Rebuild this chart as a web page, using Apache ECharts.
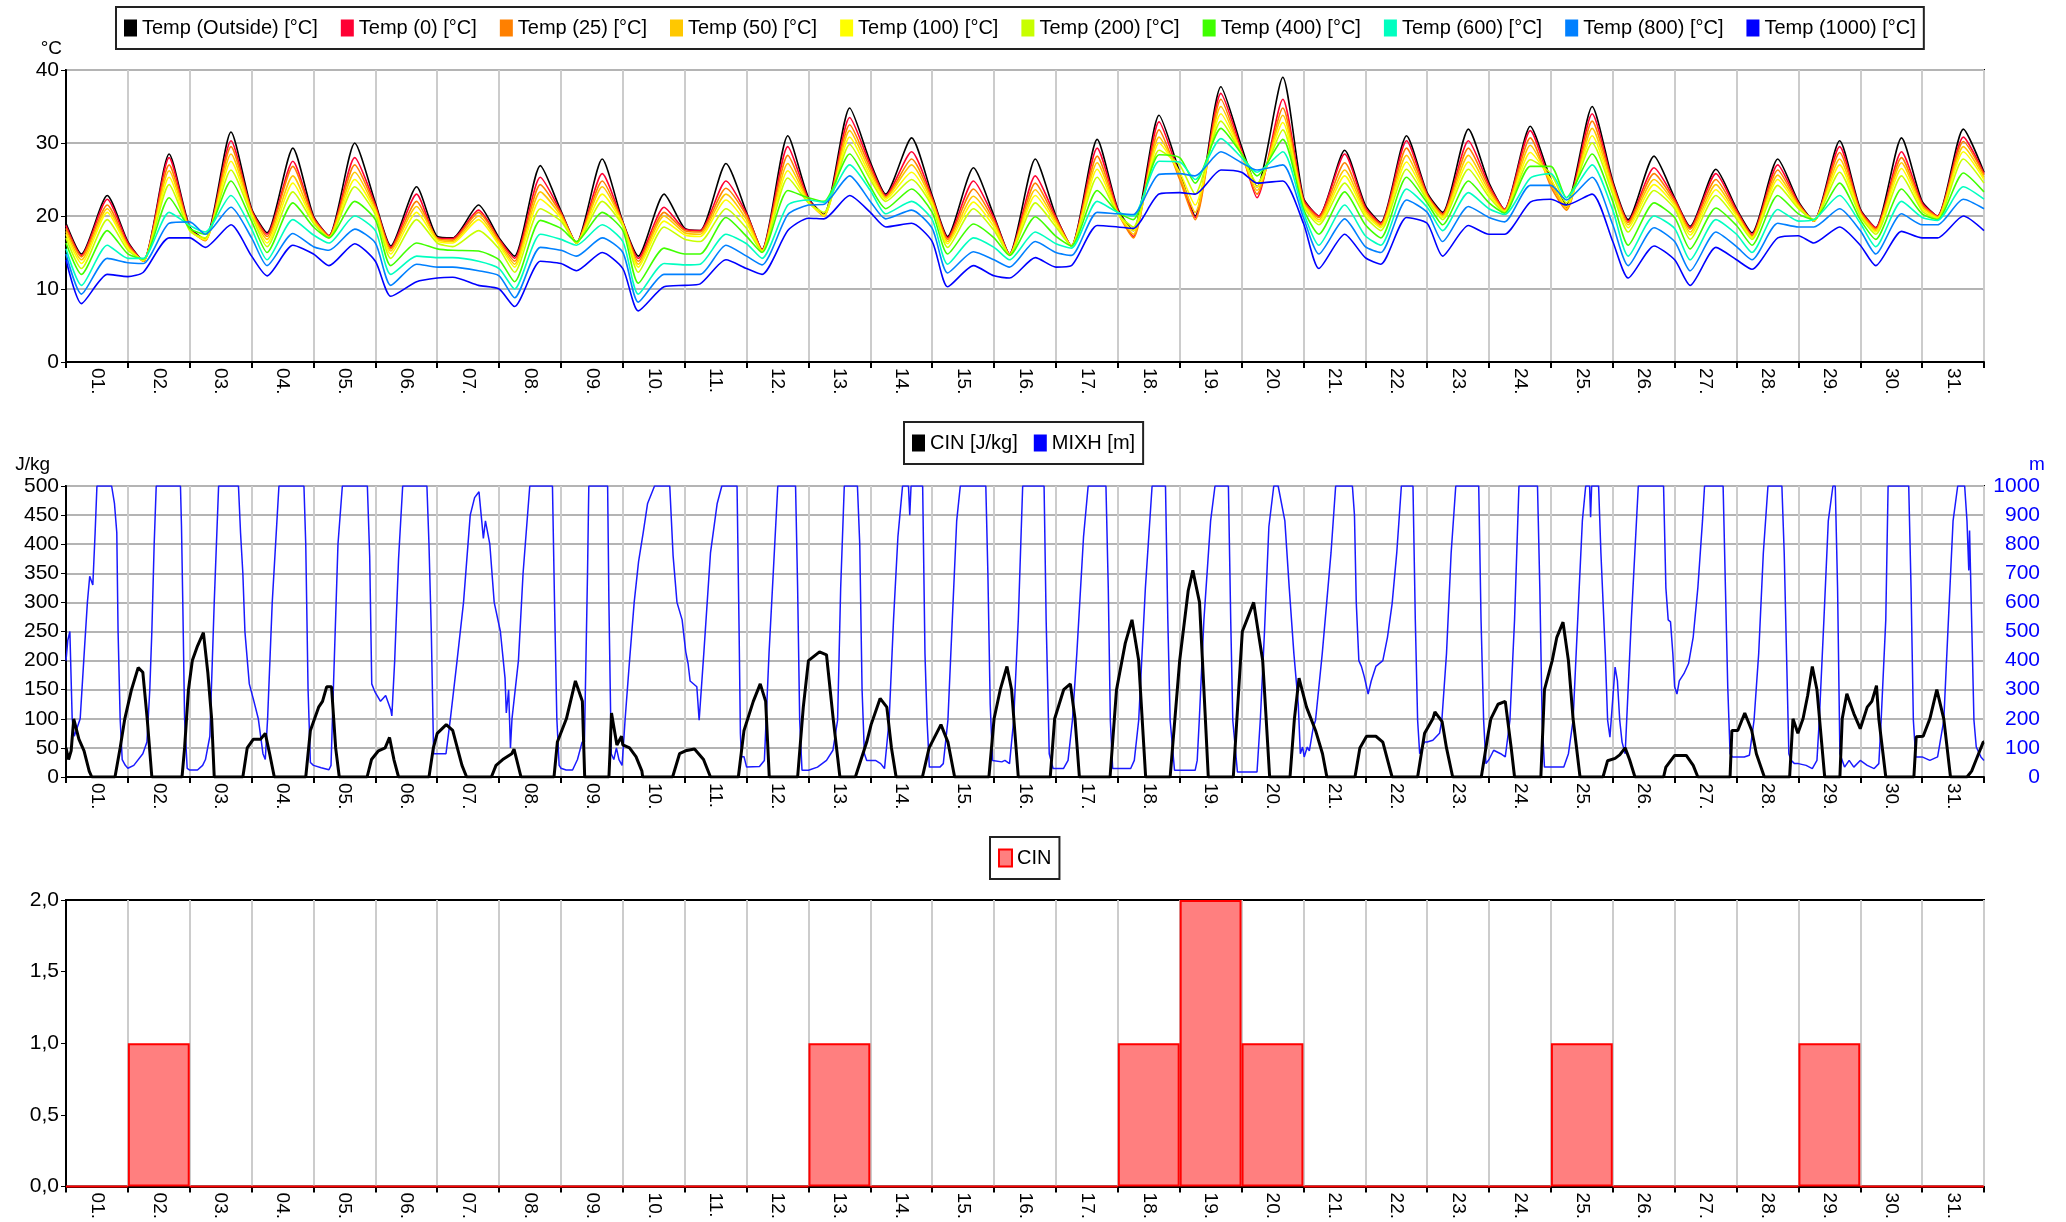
<!DOCTYPE html>
<html>
<head>
<meta charset="utf-8">
<title>Temp / CIN / MIXH</title>
<script src="https://cdn.jsdelivr.net/npm/echarts@6/dist/echarts.min.js"></script>
<style>
  html, body { margin: 0; padding: 0; background: #fff; }
  #chart { width: 2066px; height: 1222px; }
</style>
</head>
<body>
<div id="chart"></div>
<script>
var days = ['01.', '02.', '03.', '04.', '05.', '06.', '07.', '08.', '09.', '10.',
  '11.', '12.', '13.', '14.', '15.', '16.', '17.', '18.', '19.', '20.',
  '21.', '22.', '23.', '24.', '25.', '26.', '27.', '28.', '29.', '30.', '31.'];

// temperatures read per day at 00h, 06h (morning low) and 16h (afternoon high), last value = end of month
var sampleHours = [0, 6, 16];

var tOutside = [19, 14.8, 22.8, 16.5, 13.8, 28.5, 18.5, 16.8, 31.5, 21, 17.7, 29.3, 20, 17.3, 30,
  21.8, 15.9, 24, 17.2, 17, 21.5, 17, 14.5, 26.9, 20.7, 16.3, 27.8, 19.2, 14.5, 23,
  18.3, 18, 27.2, 20.5, 15.4, 31, 22.5, 20.2, 34.8, 27.4, 23, 30.7, 22.8, 17.2, 26.6,
  20, 14.8, 27.8, 20, 15.9, 30.5, 21, 18, 33.8, 26, 20, 37.7, 29.5, 24, 39,
  22.5, 20, 29, 21.5, 19.1, 31, 23.2, 20.5, 31.9, 24.5, 20.9, 32.3, 25, 21.5, 35,
  24.8, 19.5, 28.2, 22.5, 18.6, 26.4, 21, 17.7, 27.8, 22, 19.3, 30.3, 21, 18.4, 30.7,
  22, 20, 31.9, 26];
var t0 = [18.7, 14.6, 22.3, 16.3, 13.8, 28, 18.3, 16.7, 30.3, 20.8, 17.5, 27.5, 19.8, 17.3, 28,
  21.5, 15.7, 23, 17, 16.9, 20.8, 16.8, 14.2, 25.3, 20.5, 16.3, 25.8, 19.1, 14.2, 21.2,
  18.2, 18, 24.8, 20.3, 15.4, 29.5, 22.3, 20.1, 33.5, 27, 22.8, 28.8, 22.5, 17, 24.8,
  19.7, 14.8, 25.5, 19.8, 15.9, 29.3, 20.8, 17.2, 32.9, 25.5, 19.8, 36.8, 29, 22.5, 36,
  22.3, 20, 28.5, 21.2, 19, 30.3, 23, 20.3, 30.3, 24.2, 20.9, 31.7, 24.5, 21.2, 34,
  24.5, 19.3, 26.6, 22.3, 18.4, 25.8, 20.8, 17.5, 27, 21.8, 19.3, 29.5, 20.8, 18.4, 28.8,
  21.8, 20, 30.8, 25.8];
var t25 = [18.3, 14.4, 21.5, 16, 13.8, 27, 18.2, 16.6, 29.5, 20.6, 17.2, 26.8, 19.6, 17.2, 27,
  21.2, 15.5, 22, 16.9, 16.7, 20.5, 16.6, 13.8, 24.3, 20.3, 16.3, 24.8, 19, 13.8, 20.5,
  18, 17.8, 23.8, 20, 15.3, 28.3, 22.1, 20, 32.5, 26.5, 22.6, 27.8, 22.2, 16.8, 23.7,
  19.3, 14.7, 24.5, 19.5, 15.9, 28.2, 20.5, 17, 31.8, 25, 19.5, 36, 28.5, 23, 34.8,
  22, 19.8, 27.3, 20.9, 18.8, 29.3, 22.8, 20.2, 29.3, 23.8, 20.8, 30.7, 24, 20.8, 33,
  24.2, 19.1, 25.8, 22, 18.2, 25, 20.5, 17.3, 26.3, 21.6, 19.3, 28.7, 20.6, 18.2, 28,
  21.5, 19.9, 30.2, 25.6];
var t50 = [17.9, 14, 21, 15.8, 13.8, 26.2, 18.1, 16.7, 28.5, 20.4, 16.8, 25.5, 19.4, 17.1, 26,
  20.9, 15.2, 21.3, 16.8, 16.5, 20, 16.3, 13.4, 23.3, 20, 16.3, 24, 18.9, 13.4, 20,
  17.7, 17.5, 23, 19.5, 15.2, 27.2, 22, 20, 31.7, 26, 22.5, 27, 21.9, 16.5, 22.7,
  19, 14.7, 23.6, 19.2, 15.9, 27.3, 20.4, 17.5, 30.8, 25.5, 20.5, 35, 28.5, 23.5, 33.8,
  21.8, 19.5, 26.3, 20.6, 18.6, 28.3, 22.6, 20, 28.3, 23.4, 20.7, 29.7, 24.5, 21, 32,
  23.8, 18.8, 25, 21.7, 17.8, 24.3, 20.2, 17.1, 25.6, 21.4, 19.3, 27.8, 20.4, 18, 27.3,
  21.3, 19.8, 29.5, 25.3];
var t100 = [17.5, 13.5, 20.5, 15.6, 13.9, 25.3, 18, 16.8, 27.5, 20.2, 16.3, 24.5, 19.2, 17, 25,
  20.6, 14.8, 20.5, 16.6, 16.3, 19.5, 16, 13, 22.3, 19.7, 16.3, 23, 18.8, 13, 19.3,
  17.4, 17.2, 22.2, 19, 15.2, 26.2, 21.9, 20.1, 30.8, 25.5, 22.3, 26, 21.6, 16.2, 21.9,
  18.5, 14.7, 22.8, 18.9, 15.9, 26.4, 20.3, 18, 30, 26, 21.5, 34, 28.5, 24, 32.8,
  21.6, 19.2, 25.5, 20.3, 18.4, 27.4, 22.4, 19.8, 27.4, 23, 20.6, 28.7, 25, 21.3, 31,
  23.4, 18.4, 24.3, 21.4, 17.4, 23.6, 20, 17, 25, 21.2, 19.4, 27, 20.2, 17.8, 26.5,
  21, 19.7, 28.8, 25];
var t200 = [17, 12.8, 19.5, 15.3, 14, 24.3, 18, 17, 26.3, 20, 15.8, 23.3, 19, 17, 24,
  20.2, 14.2, 19.5, 16.3, 15.8, 18, 15.5, 12.3, 21, 19.3, 16.3, 22, 18.6, 12.3, 18.5,
  16.8, 16.5, 21, 18.3, 15.1, 25.2, 21.8, 20.5, 29.8, 25, 22, 25, 21.3, 15.7, 21,
  18, 14.7, 21.8, 18.5, 15.9, 25.3, 20.3, 18.5, 29, 27, 23, 33, 28.5, 24.5, 31.8,
  21.4, 18.8, 24.5, 19.9, 18, 26.4, 22.2, 19.5, 26.4, 22.6, 20.5, 27.7, 25.8, 21.8, 30,
  23, 17.8, 23.5, 21, 16.8, 22.8, 19.6, 16.8, 24.2, 21, 19.5, 26, 20, 17.5, 25.5,
  20.7, 19.6, 27.8, 24.5];
var t400 = [16.3, 12, 18, 14.8, 14.1, 22.5, 18.3, 17.5, 24.8, 19.3, 15, 21.8, 18.5, 17, 22,
  19.5, 13.2, 16.3, 15.5, 15.3, 15.2, 14, 11, 19.4, 18.3, 16.5, 20.5, 18, 10.8, 15.6,
  14.8, 14.8, 19.8, 17.2, 15, 23.5, 22.5, 22, 28.5, 24, 21, 23.7, 20.5, 14.8, 18.9,
  17, 14.6, 19.9, 17.2, 15.9, 23.5, 20.5, 19.5, 28.4, 28, 24.5, 32, 28.5, 25.5, 30.5,
  21, 17.5, 23.3, 18.8, 17, 25.3, 21.8, 18.8, 24.8, 21.8, 20.4, 26.8, 26.8, 22.5, 28.5,
  22, 16, 21.8, 19.8, 15.5, 21.1, 18.7, 16, 22.8, 20.3, 19.5, 24.5, 19.5, 16.8, 23.7,
  20.3, 19.5, 25.9, 23.3];
var t600 = [15.5, 10.5, 16, 14.2, 14.2, 20.5, 18.7, 17.8, 22.8, 18.2, 14, 19.5, 17.4, 16.3, 20,
  18, 12, 14.5, 14.3, 14.3, 13.8, 12.8, 10, 17.5, 16.8, 16, 18.8, 16.5, 9.3, 13.5,
  13.3, 13.4, 17.5, 16.2, 14.2, 21.5, 22.2, 21.9, 27, 23.5, 20.3, 22, 19.5, 13.4, 17,
  15.7, 14, 17.8, 16.2, 15.6, 22, 20.5, 20, 27.5, 27.4, 25, 30.6, 28, 26, 28.8,
  20.5, 16, 21.5, 17.3, 16, 23.7, 21.2, 18, 23.2, 21, 20.2, 25.2, 25.8, 22.5, 27,
  20.8, 14.5, 20, 18.3, 14, 19.5, 17.5, 15, 20.9, 19.3, 19.5, 22.8, 19, 15.8, 22,
  19.8, 19.4, 24, 22.3];
var t800 = [14.8, 9.3, 14.2, 13.6, 13.5, 19, 19.2, 17.5, 21.2, 17, 13.2, 17.6, 15.8, 15.3, 18.2,
  16.3, 10.5, 13.4, 13, 13, 12.5, 11.8, 8.8, 15.7, 15.3, 14.5, 17, 15, 8.2, 12,
  12, 12, 16, 14.5, 13.3, 20.2, 21.5, 21.6, 25.5, 22, 19.6, 20.8, 18.3, 12.2, 15.1,
  14, 13, 16.5, 15, 14.6, 20.5, 20.3, 20.2, 25.7, 25.8, 25.5, 28.8, 27.3, 26.3, 27,
  19.8, 14.8, 19.6, 15.8, 15, 22.2, 20.5, 16.5, 21.3, 19.8, 19.2, 24.2, 24.2, 22.2, 25.3,
  18.8, 13.2, 18.4, 16.5, 12.5, 17.8, 15.8, 14, 19, 18.5, 18.5, 21, 18, 14.8, 20.3,
  18.8, 18.8, 22.3, 21];
var t1000 = [14, 8, 12, 11.7, 12.3, 17, 17, 15.7, 18.8, 14.5, 11.8, 16, 14.8, 13.2, 16.2,
  13.8, 9, 11, 11.5, 11.6, 10.5, 10, 7.6, 13.8, 13.5, 12.5, 15, 12.8, 7, 10.3,
  10.5, 10.7, 14, 12.8, 12, 18, 19.7, 19.6, 22.8, 20.5, 18.5, 19, 16.5, 10.3, 13.2,
  11.8, 11.5, 14.3, 13, 13.2, 18.7, 18.5, 18.3, 23, 23.2, 23, 26.3, 26, 24.5, 24.8,
  19, 12.8, 17.5, 14.3, 13.4, 19.8, 19, 14.5, 18.7, 17.5, 17.5, 21.9, 22.3, 21.5, 23,
  16.5, 11.5, 15.9, 14, 10.5, 15.7, 14, 12.7, 17, 17.3, 16.3, 18.5, 16, 13.2, 17.9,
  17, 17, 20, 18];

// [hour of month, J/kg]
var cin = [[0, 50], [1, 30], [2, 45], [3, 100], [5, 65], [7, 45], [9, 10], [10, 0],
  [19, 0], [21, 50], [22.8, 100], [25.4, 150], [28, 188], [29.8, 180], [31.5, 100], [33.3, 0],
  [45, 0], [46, 50], [47.5, 150], [49, 200], [51, 225], [53.3, 248], [55, 180], [56.5, 100], [57.5, 0],
  [68.6, 0], [70.3, 50], [72.7, 65], [75.5, 65], [77.3, 75], [79, 40], [80.8, 0],
  [93, 0], [94.8, 80], [98, 120], [99.5, 130], [101.1, 155], [103, 155], [104.6, 50], [106, 0],
  [116.8, 0], [118.5, 30], [121.2, 45], [123.8, 50], [125.5, 68], [127.2, 30], [129, 0],
  [140.8, 0], [142.5, 50], [144, 75], [147.5, 90], [150, 80], [151.8, 50], [153.6, 20], [155.4, 0],
  [165, 0], [166.8, 20], [169.4, 30], [172.9, 40], [173.8, 48], [176.5, 0],
  [189.3, 0], [190.6, 60], [194.1, 100], [197.6, 165], [200.3, 130], [201.2, 0],
  [210.6, 0], [211, 40], [211.6, 110], [213.7, 55], [215.5, 70], [216, 55], [218.6, 50], [221.1, 35], [223.4, 10], [223.7, 0],
  [235.3, 0], [238, 40], [240.3, 45], [243.8, 48], [247.3, 30], [250, 0],
  [260.8, 0], [263, 80], [266.6, 130], [269.3, 160], [271.4, 130], [272.8, 0],
  [283.8, 0], [286, 120], [288, 200], [292.3, 215], [295, 210], [297.6, 100], [300.2, 0],
  [306.2, 0], [310.6, 60], [312.3, 90], [315.8, 135], [318.4, 120], [320.2, 50], [322, 0],
  [332.2, 0], [334.8, 50], [339.4, 90], [342.1, 60], [344.7, 0],
  [358, 0], [360, 100], [362.4, 150], [365, 190], [366.8, 150], [369.4, 0],
  [381.8, 0], [383.5, 100], [387, 150], [389.6, 160], [391.4, 100], [393.1, 0],
  [405, 0], [407.5, 150], [410.9, 230], [413.5, 270], [416.1, 200], [418.8, 0],
  [428.3, 0], [432, 200], [435.3, 320], [437.1, 355], [439.7, 300], [441.4, 150], [443.1, 0],
  [452.8, 0], [456.3, 250], [460.7, 300], [464.2, 200], [466.9, 0],
  [474.8, 0], [476.5, 100], [478.3, 170], [481.2, 120], [484.7, 80], [487.4, 40], [489.1, 0],
  [500, 0], [501.9, 50], [504.5, 70], [508.1, 70], [510.8, 60], [512.6, 30], [514.4, 0],
  [524.3, 0], [527, 75], [530.2, 100], [531, 112], [533.8, 95], [535.5, 50], [537.9, 0],
  [549, 0], [551.7, 75], [552.7, 100], [555.5, 125], [558.3, 130], [560.6, 50], [561.9, 0],
  [572.1, 0], [573.5, 150], [576.5, 200], [578.3, 240], [580.7, 266], [582.8, 200], [584.6, 100], [587.3, 0],
  [596.2, 0], [598, 28], [600.9, 32], [602.7, 38], [604.8, 50], [606.5, 30], [608.6, 0],
  [619.7, 0], [620.6, 17], [624, 37], [628.5, 37], [631.2, 20], [633, 0],
  [645.5, 0], [646.2, 80], [648.5, 80], [651.2, 110], [653.9, 80], [655.7, 40], [658.8, 0],
  [668.6, 0], [669.9, 100], [671.8, 75], [673.8, 100], [675.6, 140], [677.4, 190], [679.2, 150], [681, 60], [682.2, 0],
  [688.1, 0], [689, 100], [690.8, 143], [693.5, 109], [696, 83], [698.7, 120], [700.5, 130], [702.3, 157], [703.2, 100], [705.9, 0],
  [716.8, 0], [717.7, 69], [720.4, 70], [723, 100], [725.7, 150], [728.4, 100], [731, 0],
  [737.4, 0], [739.2, 10], [741, 30], [743.7, 60], [744, 60]];

// [hour of month, m]
var mixh = [[0, 400], [0.7, 470], [1.5, 500], [2.4, 200], [3.2, 140], [5.5, 200], [7.3, 460], [8.3, 600], [9.2, 690], [10.4, 660], [10.8, 740], [11.3, 840], [12, 1000], [17.7, 1000], [18.8, 940], [19.7, 840], [20.2, 500], [21, 200], [21.8, 60], [23, 40],
  [24, 30], [26.3, 40], [29.8, 80], [31.4, 120], [32.5, 300], [33.3, 500], [34.2, 800], [35, 1000], [44.4, 1000], [44.8, 860], [45.3, 600], [46, 200], [47, 30],
  [48, 24], [51, 24], [53, 40], [54.1, 60], [55.8, 140], [57.5, 600], [59.2, 1000], [66.9, 1000], [67.7, 840], [68.6, 700], [69.4, 500], [71.1, 320],
  [72.9, 260], [74.6, 200], [76.4, 80], [77.3, 60], [78.2, 200], [80, 600], [82.6, 1000], [92.3, 1000], [93, 800], [93.9, 300], [94.8, 50],
  [96, 40], [99, 32], [102, 25], [102.8, 40], [103.7, 300], [105.5, 800], [107.2, 1000], [116.9, 1000], [117.8, 760], [118.6, 320], [119.5, 300],
  [120, 290], [122, 260], [124, 280], [126, 230], [126.4, 210], [127.5, 400], [129, 750], [130.6, 1000], [140, 1000], [140.8, 800], [141.7, 500], [142.6, 80],
  [144, 80], [147.4, 80], [149.1, 200], [151.7, 400], [154.2, 600], [156.8, 900], [158.5, 960], [160.2, 980], [161.9, 820], [162.7, 880], [164.4, 800], [166.1, 600],
  [168.5, 500], [170.3, 340], [170.8, 220], [171.7, 300], [172.4, 100], [173, 200], [175.5, 400], [177.3, 700], [179.9, 1000], [188.7, 1000], [189.5, 600], [190.4, 200], [191.3, 40],
  [192, 30], [194, 24], [196.5, 24], [198.4, 60], [200.2, 120], [201.1, 120], [202.3, 700], [202.8, 1000], [210.1, 1000], [210.6, 600], [211.5, 80], [212.5, 60], [213.5, 100], [214.5, 60], [215.7, 40],
  [216.9, 200], [218.6, 400], [220.4, 600], [222.1, 740], [223.9, 840], [225.6, 940], [228.3, 1000], [234.2, 1000], [235.5, 760], [237, 600], [239, 540],
  [240.4, 430], [241.3, 390], [242.1, 330], [244.7, 310], [245.6, 195], [247.4, 424], [250, 770], [252.6, 940], [254.4, 1000], [260.3, 1000], [261.1, 500], [261.6, 150], [262, 70], [263, 70],
  [264, 34], [269, 36], [270.9, 57], [272.7, 424], [274.4, 710], [276.1, 1000], [283, 1000], [283.8, 650], [284.6, 195], [285.5, 23],
  [288, 23], [291.5, 34], [295, 57], [297.5, 92], [299.3, 195], [300.5, 650], [301.9, 1000], [307, 1000], [307.9, 800], [308.8, 300], [309.7, 80], [310.6, 57],
  [312, 57], [314, 57], [316, 46], [317.5, 29], [319.3, 195], [321, 540], [322.7, 825], [324.5, 1000], [326.8, 1000], [327.3, 900], [327.8, 1000], [332.3, 1000], [333.2, 424], [334, 195], [334.9, 34],
  [336, 34], [339, 34], [340.3, 46], [342.1, 195], [343.8, 540], [345.5, 880], [346.9, 1000], [356.8, 1000], [357.6, 700], [358.5, 250], [359.4, 57],
  [360, 52], [363, 52], [364.2, 57], [366, 46], [367.6, 195], [369.4, 540], [371.1, 1000], [379.4, 1000], [380.2, 540], [381.4, 80], [382.9, 29],
  [384, 29], [386.9, 29], [388.7, 57], [390.4, 195], [392.1, 424], [394.7, 825], [396.5, 1000], [403.4, 1000], [404.3, 650], [405.1, 195], [406, 29],
  [408, 29], [413, 29], [414.4, 57], [416.1, 195], [418.7, 650], [421.3, 1000], [426.5, 1000], [427.4, 540], [428.3, 195], [430, 23],
  [432, 23], [438, 23], [438.8, 57], [439.6, 195], [441.4, 540], [444, 880], [445.7, 1000], [450.9, 1000], [451.8, 540], [452.6, 195], [454.4, 17],
  [456, 17], [462, 17], [463.3, 200], [464.9, 500], [466.6, 860], [468.5, 1000], [470.2, 1000], [472.8, 880], [474.5, 650], [476.3, 424], [478, 250], [478.8, 80], [479.7, 103],
  [480.3, 69], [481.5, 103], [482.3, 90], [483.8, 170], [484.7, 195], [487.3, 424], [490.7, 770], [492.5, 1000], [499, 1000], [499.8, 900], [500.5, 600], [501.5, 400], [502.5, 380], [503.6, 345],
  [504.5, 310], [505.1, 285], [506.3, 330], [508.1, 380], [510.8, 400], [512.6, 480], [514.4, 595], [516.2, 770], [518, 1000], [522.5, 1000], [523.4, 540], [524.3, 195], [525.1, 80], [526, 103], [527, 120],
  [528, 120], [530.2, 126], [532.8, 150], [533.7, 195], [535.5, 424], [537.3, 770], [539.1, 1000], [548, 1000], [548.9, 540], [549.9, 195], [550.8, 46],
  [552, 60], [553.8, 92], [556.5, 80], [558.3, 69], [560.1, 195], [561.9, 540], [563.6, 1000], [570.8, 1000], [571.7, 650], [572.6, 195], [573.5, 34],
  [576, 34], [581, 34], [582.8, 80], [584.6, 195], [586.4, 540], [588.2, 880], [589.5, 1000], [591, 1000], [591.4, 893], [591.8, 1000], [594.5, 1000], [595.4, 770], [597.1, 424], [598, 195], [598.9, 137],
  [600.9, 378], [601.8, 330], [602.7, 195], [603.6, 120], [604.8, 80], [607.2, 540], [609.9, 1000], [619.7, 1000], [620.6, 650], [621.5, 540], [622.4, 533], [623.3, 424],
  [624, 310], [624.9, 285], [625.8, 330], [627.6, 355], [629.4, 390], [631.2, 481], [633, 650], [634.8, 880], [635.6, 1000], [642.8, 1000], [643.7, 650], [644.6, 310], [645.5, 80], [646.4, 69],
  [648, 69], [651, 69], [653, 75], [654.8, 195], [656.6, 424], [658.4, 770], [660.2, 1000], [665.6, 1000], [666.5, 770], [667.4, 424], [668.3, 80], [669.2, 57], [670.5, 46],
  [672, 46], [675, 40], [677.4, 29], [679.2, 57], [680.1, 195], [681.9, 540], [683.6, 880], [685.4, 1000], [686.3, 1000], [687.2, 650], [688.1, 80], [689.9, 34], [691.7, 57], [693.5, 34],
  [696, 57], [698.7, 40], [701.4, 29], [703.2, 46], [704.1, 195], [705.9, 540], [706.8, 1000], [714.8, 1000], [715.7, 650], [716.6, 195], [717.5, 69],
  [720, 69], [723, 57], [726, 69], [728.4, 195], [730.2, 540], [732, 880], [733.8, 1000], [736.5, 1000], [737.4, 880], [738.1, 710], [738.4, 847], [739.2, 540], [740.1, 195], [741, 103], [742.8, 69], [744, 57]];

// CIN count per day (bottom panel)
var cinDays = [0, 1, 0, 0, 0, 0, 0, 0, 0, 0, 0, 0, 1, 0, 0, 0, 0, 1, 2, 1, 0, 0, 0, 0, 1, 0, 0, 0, 1, 0, 0];

var tempNames = ['Temp (Outside) [°C]', 'Temp (0) [°C]', 'Temp (25) [°C]', 'Temp (50) [°C]', 'Temp (100) [°C]',
  'Temp (200) [°C]', 'Temp (400) [°C]', 'Temp (600) [°C]', 'Temp (800) [°C]', 'Temp (1000) [°C]'];
var tempColors = ['#000000', '#ff0033', '#ff8000', '#ffc800', '#ffff00', '#c8ff00', '#40ff00', '#00ffc0', '#0080ff', '#0000ff'];
var tempSeries = [tOutside, t0, t25, t50, t100, t200, t400, t600, t800, t1000];

var font = '"Liberation Sans", Arial, sans-serif';

function toHours(vals) {
  return vals.map(function (v, i) {
    var d = Math.floor(i / 3);
    return [d < 31 ? d * 24 + sampleHours[i % 3] : 744, v];
  });
}

function dayAxis(gi) {
  return {
    type: 'category', gridIndex: gi, data: days, boundaryGap: true,
    axisLine: { lineStyle: { color: '#000', width: 2 } },
    axisTick: { show: true, interval: 0, length: 6, lineStyle: { color: '#000', width: 2 } },
    axisLabel: { interval: 0, rotate: -90, color: '#000', fontSize: 19, fontFamily: font, margin: 6, padding: [0, 0, 8, 0] },
    splitLine: { show: true, interval: 0, lineStyle: { color: '#cccccc', width: 2 } }
  };
}
function hourAxis(gi) {
  return { type: 'value', gridIndex: gi, min: 0, max: 744, show: false, splitLine: { show: false } };
}
function valueAxis(gi, max, step, name, namePad) {
  return {
    type: 'value', gridIndex: gi, min: 0, max: max, interval: step,
    name: name, nameLocation: 'end', nameGap: 12,
    nameTextStyle: { color: '#000', fontSize: 19, fontFamily: font, align: 'right', padding: [0, namePad, 0, 0] },
    axisLine: { show: true, lineStyle: { color: '#000', width: 2 } },
    axisTick: { show: true, length: 5, lineStyle: { color: '#000' } },
    axisLabel: { color: '#000', fontSize: 21, fontFamily: font, margin: 7 },
    splitLine: { show: true, lineStyle: { color: '#b4b4b4', width: 2 } }
  };
}
function legendBox(names, left, top, gap) {
  return {
    data: names, left: left, top: top, icon: 'rect', itemWidth: 13, itemHeight: 17, itemGap: gap,
    padding: [11, 8], backgroundColor: '#fff', borderColor: '#222', borderWidth: 2,
    textStyle: { color: '#000', fontSize: 20, fontFamily: font }
  };
}

var series = tempSeries.map(function (vals, i) {
  return {
    name: tempNames[i], type: 'line', xAxisIndex: 1, yAxisIndex: 0,
    data: toHours(vals), smooth: 0.22, showSymbol: false,
    lineStyle: { width: 1.6, color: tempColors[i] }, itemStyle: { color: tempColors[i] }
  };
});
series.push({
  name: 'CIN [J/kg]', type: 'line', xAxisIndex: 3, yAxisIndex: 1, data: cin, showSymbol: false,
  lineStyle: { width: 3, color: '#000' }, itemStyle: { color: '#000' }, z: 3
});
series.push({
  name: 'MIXH [m]', type: 'line', xAxisIndex: 3, yAxisIndex: 2, data: mixh, showSymbol: false,
  lineStyle: { width: 1.5, color: '#1a1aff' }, itemStyle: { color: '#0000ff' }, z: 2
});
series.push({
  name: 'CIN', type: 'bar', xAxisIndex: 4, yAxisIndex: 3, data: cinDays,
  barWidth: '100%', itemStyle: { color: 'rgba(255,0,0,0.5)', borderColor: '#ff0000', borderWidth: 2 }
});

var mAxis = valueAxis(1, 1000, 100, 'm', 0);
mAxis.position = 'right';
mAxis.splitLine = { show: false };
mAxis.axisLine = { show: false };
mAxis.axisTick = { show: false };
mAxis.axisLabel = { color: '#0000ff', fontSize: 21, fontFamily: font, margin: 56, align: 'right',
  formatter: function (v) { return String(v); } };
mAxis.nameTextStyle = { color: '#0000ff', fontSize: 19, fontFamily: font, align: 'left', padding: [0, 0, 0, 45] };

var cinAxis = valueAxis(2, 2, 0.5, '', 0);
cinAxis.splitLine = { show: false };
cinAxis.axisLabel.formatter = function (v) { return v.toFixed(1).replace('.', ','); };

var chart = echarts.init(document.getElementById('chart'));
chart.setOption({
  animation: false,
  backgroundColor: '#fff',
  grid: [
    { left: 66, right: 82, top: 70, height: 292, show: true, borderColor: '#000', borderWidth: 2 },
    { left: 66, right: 82, top: 486, height: 291, show: true, borderColor: '#000', borderWidth: 2 },
    { left: 66, right: 82, top: 900, height: 292, show: true, borderColor: '#000', borderWidth: 2 }
  ],
  legend: [
    legendBox(tempNames, 116, 7, 23),
    legendBox(['CIN [J/kg]', 'MIXH [m]'], 904, 422, 16),
    legendBox(['CIN'], 990, 837, 10)
  ],
  xAxis: [dayAxis(0), hourAxis(0), dayAxis(1), hourAxis(1), dayAxis(2)],
  yAxis: [valueAxis(0, 40, 10, '°C', 4), valueAxis(1, 500, 50, 'J/kg', 16), mAxis, cinAxis],
  series: series
});
</script>
</body>
</html>
